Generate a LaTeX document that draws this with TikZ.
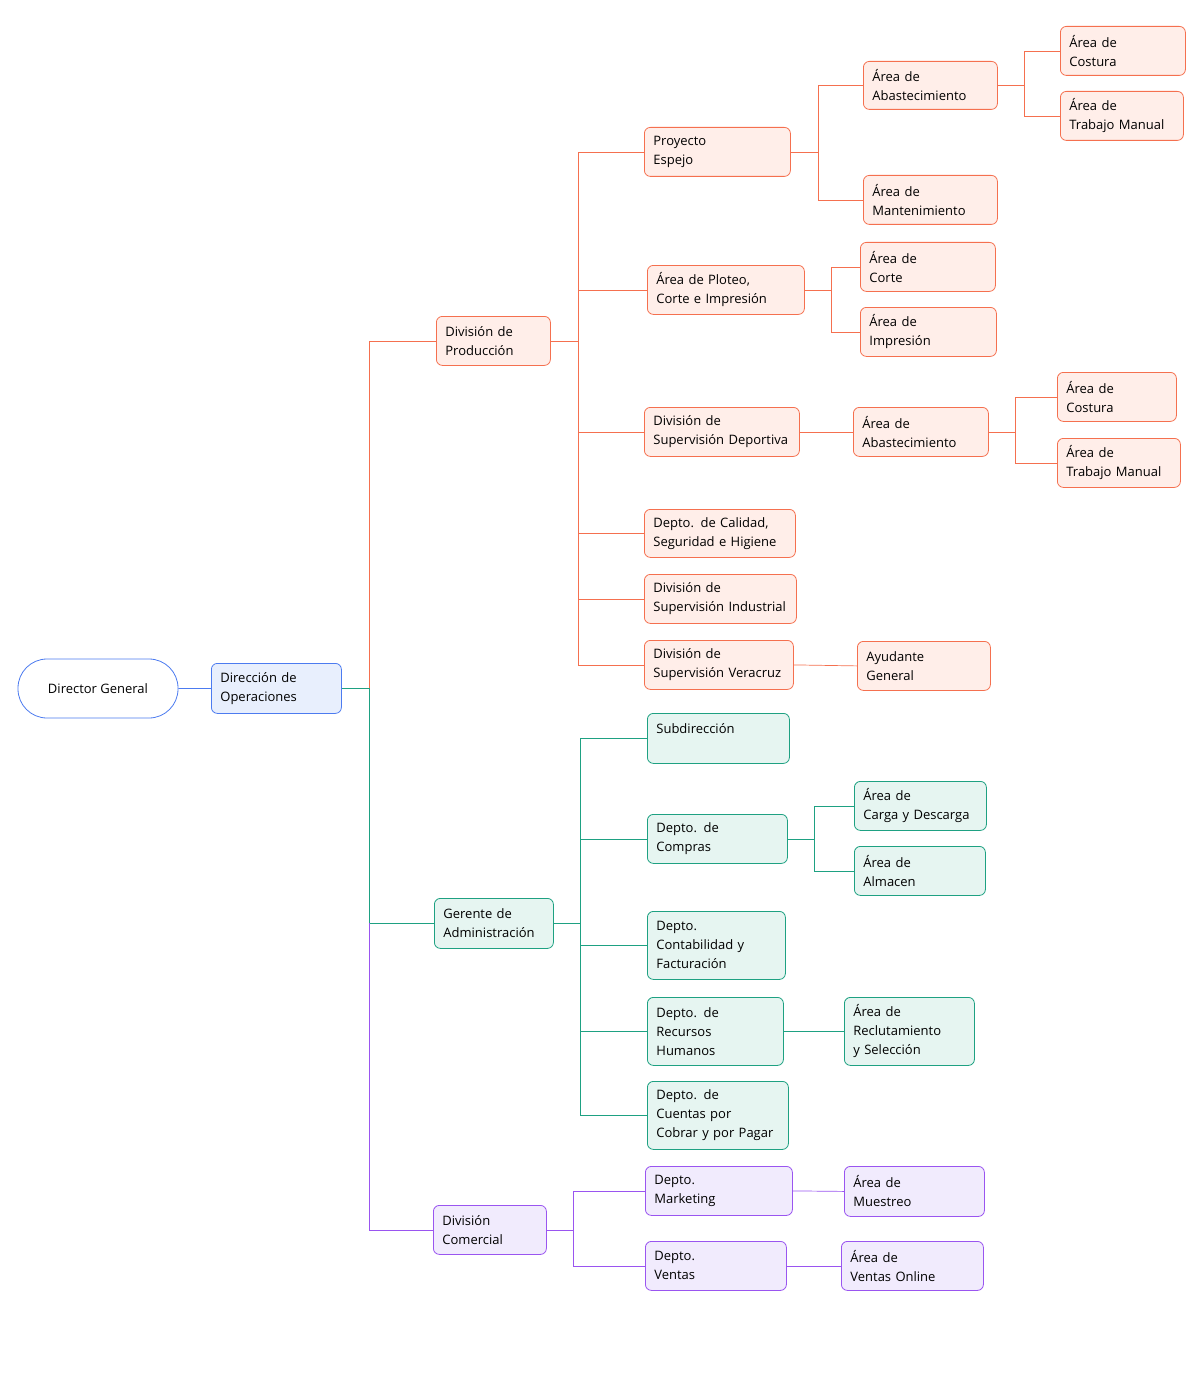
\documentclass[tikz,border=0pt]{standalone}
\usepackage{fontspec}
\setmainfont{Open Sans}
\begin{document}
\begin{tikzpicture}[x=1pt,y=-1pt,
  bx/.style={draw, rounded corners=6pt, line width=0.8pt, anchor=north west, align=left, inner xsep=9pt, inner ysep=0pt, font=\fontsize{13}{19}\selectfont},
  R/.style={bx, draw=red1, fill=red2}, G/.style={bx, draw=grn1, fill=grn2},
  P/.style={bx, draw=pur1, fill=pur2}, B/.style={bx, draw=blu1, fill=blu2},
  lr/.style={draw=red1, line width=0.7pt}, lg/.style={draw=grn1, line width=0.7pt},
  lp/.style={draw=pur1, line width=0.7pt}, lb/.style={draw=blu1, line width=0.7pt}]
\definecolor{red1}{HTML}{F5704F}\definecolor{red2}{HTML}{FFEEE9}
\definecolor{grn1}{HTML}{1EA182}\definecolor{grn2}{HTML}{E6F5F1}
\definecolor{pur1}{HTML}{9A55F0}\definecolor{pur2}{HTML}{F1EBFD}
\definecolor{blu1}{HTML}{4C7BF0}\definecolor{blu2}{HTML}{E8EFFD}
\useasboundingbox (0,0) rectangle (1200,1380);
\newcommand\bb[7]{\node[#6, minimum width=#4-#2, minimum height=#5-#3, text width=#4-#2-18] (#1) at (#2,#3) {#7};}
\node[draw=blu1, fill=white, line width=0.8pt, rounded corners=29pt, minimum width=160, minimum height=59, font=\fontsize{13}{19}\selectfont] (DG) at (98,688.5) {Director General};
\bb{DO}{211}{663}{341}{713}{B}{Dirección de\\Operaciones}
\bb{DP}{436}{316}{550}{365}{R}{División de\\Producción}
\bb{PE}{644}{127}{790}{176}{R}{Proyecto\\Espejo}
\bb{AA1}{863}{61}{997}{109}{R}{Área de\\Abastecimiento}
\bb{AC1}{1060}{26}{1185}{75}{R}{Área de\\Costura}
\bb{AT1}{1060}{91}{1183}{140}{R}{Área de\\Trabajo Manual}
\bb{AM}{863}{175}{997}{224}{R}{Área de\\Mantenimiento}
\bb{APl}{647}{265}{804}{314}{R}{Área de Ploteo,\\Corte e Impresión}
\bb{ACo}{860}{242}{995}{291}{R}{Área de\\Corte}
\bb{AI}{860}{307}{996}{356}{R}{Área de\\Impresión}
\bb{DSD}{644}{407}{799}{456}{R}{División de\\Supervisión Deportiva}
\bb{AA2}{853}{407}{988}{456}{R}{Área de\\Abastecimiento}
\bb{AC2}{1057}{372}{1176}{421}{R}{Área de\\Costura}
\bb{AT2}{1057}{438}{1180}{487}{R}{Área de\\Trabajo Manual}
\bb{DC}{644}{509}{795}{557}{R}{Depto. de Calidad,\\Seguridad e Higiene}
\bb{DSI}{644}{574}{796}{623}{R}{División de\\Supervisión Industrial}
\bb{DSV}{644}{640}{793}{689}{R}{División de\\Supervisión Veracruz}
\bb{AG}{857}{641}{990}{690}{R}{Ayudante\\General}
\bb{GA}{434}{898}{553}{948}{G}{Gerente de\\Administración}
\bb{Sub}{647}{713}{789}{763}{G}{Subdirección\\\mbox{}}
\bb{DCo}{647}{814}{787}{863}{G}{Depto. de\\Compras}
\bb{ACD}{854}{781}{986}{830}{G}{Área de\\Carga y Descarga}
\bb{AAl}{854}{846}{985}{895}{G}{Área de\\Almacen}
\bb{DCF}{647}{911}{785}{979}{G}{Depto.\\Contabilidad y\\Facturación}
\bb{DRH}{647}{997}{783}{1065}{G}{Depto. de\\Recursos\\Humanos}
\bb{ARS}{844}{997}{974}{1065}{G}{Área de\\Reclutamiento\\y Selección}
\bb{DCC}{647}{1081}{788}{1149}{G}{Depto. de\\Cuentas por\\Cobrar y por Pagar}
\bb{DiC}{433}{1205}{546}{1254}{P}{División\\Comercial}
\bb{DM}{645}{1166}{792}{1215}{P}{Depto.\\Marketing}
\bb{AMu}{844}{1166}{984}{1216}{P}{Área de\\Muestreo}
\bb{DV}{645}{1241}{786}{1290}{P}{Depto.\\Ventas}
\bb{AVO}{841}{1241}{983}{1290}{P}{Área de\\Ventas Online}
\foreach \n/\x in {t/369,p/578,pe/818,a1/1024,pl/831,a2/1015,g/580,co/814,c/573}{\coordinate (x\n) at (\x,0);}
\draw[lb] (DG.east) -- (DO.west);
\draw[lg] (DO.east) -- (DO.east -| xt) -- (xt |- GA.west) -- (GA.west);
\draw[lr] (DO.east -| xt) |- (DP.west);
\draw[lp] (xt |- GA.west) |- (DiC.west);
\foreach \b in {PE,APl,DSD,DC,DSI,DSV}{\draw[lr] (DP.east) -- (DP.east -| xp) |- (\b.west);}
\foreach \b in {AA1,AM}{\draw[lr] (PE.east) -- (PE.east -| xpe) |- (\b.west);}
\foreach \b in {AC1,AT1}{\draw[lr] (AA1.east) -- (AA1.east -| xa1) |- (\b.west);}
\foreach \b in {ACo,AI}{\draw[lr] (APl.east) -- (APl.east -| xpl) |- (\b.west);}
\foreach \b in {AC2,AT2}{\draw[lr] (AA2.east) -- (AA2.east -| xa2) |- (\b.west);}
\draw[lr] (DSD.east) -- (AA2.west);
\draw[lr] (DSV.east) -- (AG.west);
\foreach \b in {Sub,DCo,DCF,DRH,DCC}{\draw[lg] (GA.east) -- (GA.east -| xg) |- (\b.west);}
\foreach \b in {ACD,AAl}{\draw[lg] (DCo.east) -- (DCo.east -| xco) |- (\b.west);}
\draw[lg] (DRH.east) -- (ARS.west);
\foreach \b in {DM,DV}{\draw[lp] (DiC.east) -- (DiC.east -| xc) |- (\b.west);}
\draw[lp] (DM.east) -- (AMu.west);
\draw[lp] (DV.east) -- (AVO.west);
\end{tikzpicture}
\end{document}
